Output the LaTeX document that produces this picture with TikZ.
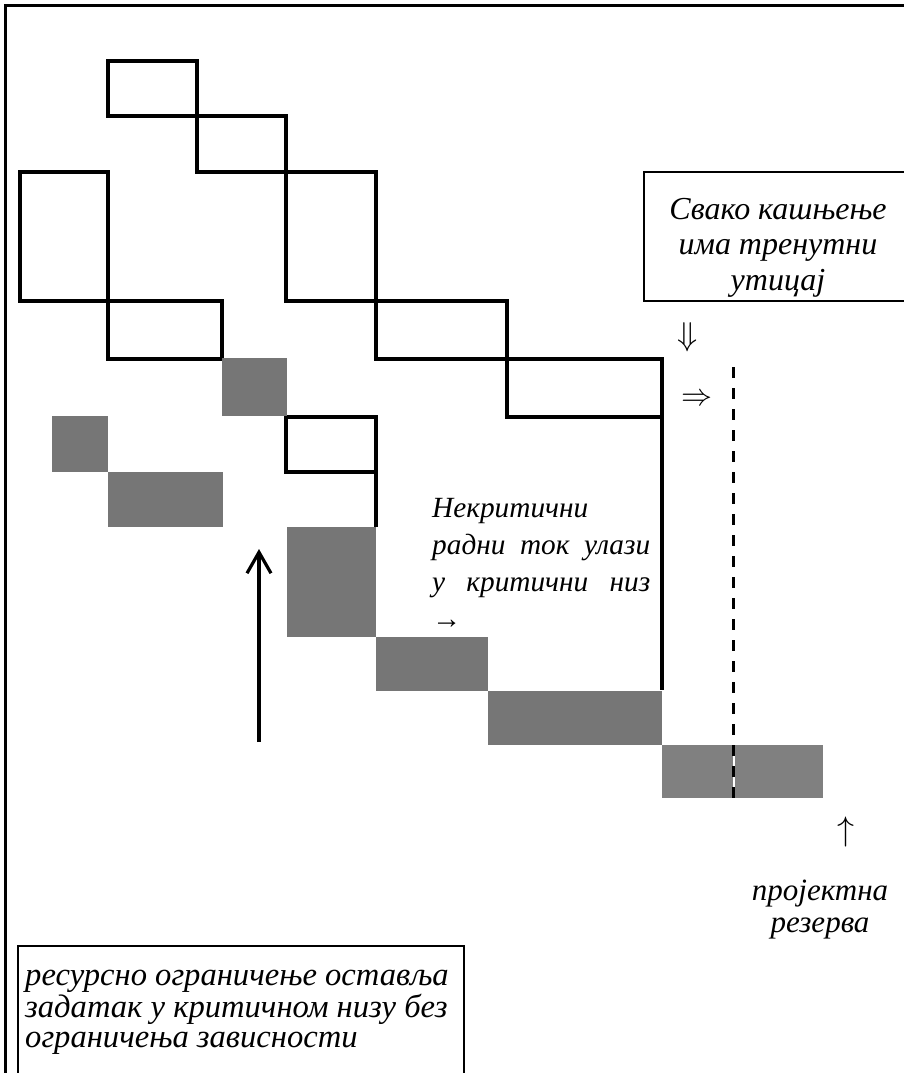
\RequirePackage{fix-cm}
\documentclass[tikz,border=0pt]{standalone}
\usepackage{fontspec}
\setmainfont{Liberation Serif}
\usetikzlibrary{arrows.meta}
\definecolor{taskgray}{RGB}{118,118,118}
\definecolor{buffergray}{RGB}{128,128,128}
\begin{document}
\begin{tikzpicture}[x=1pt,y=-1pt,
  frame/.style={line width=3.2pt},
  outline/.style={draw=black,line width=3.2pt},
  task/.style={fill=taskgray},
  buffer/.style={fill=buffergray},
  notebox/.style={draw=black,line width=2.6pt},
  label/.style={inner sep=0pt,font=\fontsize{31}{36}\selectfont\itshape},
  sym/.style={inner sep=0pt}]
\useasboundingbox (0,0) rectangle (903,1073);

% outer frame (left and top edges)
\draw[frame] (5.3,1080) -- (5.3,5.3) -- (910,5.3);

% non-critical tasks (outlined)
\draw[outline] (108,61) rectangle (197,116);
\draw[outline] (197,116) rectangle (286,172);
\draw[outline] (20,172) rectangle (108,301);
\draw[outline] (286,172) rectangle (376,301);
\draw[outline] (108,301) rectangle (222,359);
\draw[outline] (376,301) rectangle (507,359);
\draw[outline] (507,359) rectangle (662,417);
\draw[outline] (662,417) -- (662,690);
\draw[outline] (286,417) rectangle (376,472);
\draw[outline] (376,472) -- (376,527);

% critical chain tasks (filled)
\fill[task] (222,358) rectangle (287,416);
\fill[task] (52,416) rectangle (108,472);
\fill[task] (108,472) rectangle (223,527);
\fill[task] (287,527) rectangle (376,637);
\fill[task] (376,637) rectangle (488,691);
\fill[task] (488,691) rectangle (662,745);
\fill[buffer] (662,745) rectangle (823,798);

% project deadline line
\coordinate (dtop) at (733.5,367);
\coordinate (dbot) at (733.5,798);
\draw[white,line width=2pt] (733.5,745) -- (dbot);
\draw[line width=3.6pt,dash pattern=on 11pt off 10pt] (dtop) -- (dbot);

% resource constraint arrow
\coordinate (rc0) at (259,742);
\coordinate (rc1) at (259,549);
\draw[line width=3.2pt,-{Straight Barb[length=21pt,width=24pt,line width=3.2pt]}] (rc0) -- (rc1);

% note boxes
\draw[notebox] (644,172) rectangle (910,301);
\draw[notebox] (18,946) rectangle (464,1080);

\node[label,font=\fontsize{32}{35.5}\selectfont\itshape,align=center,anchor=base] (delay) at (778,290)
  {Свако кашњење\\има тренутни\\утицај};

\node[label,font=\fontsize{29.3}{37}\selectfont\itshape,align=justify,text width=218pt,anchor=base west] (feed) at (432,517)
  {Некритични\newline радни ток улази\linebreak у критични низ\linebreak {\upshape\bfseries →}};

\node[label,font=\fontsize{31}{32}\selectfont\itshape,align=center,anchor=base] (reserve) at (820,932)
  {пројектна\\резерва};

\node[label,font=\fontsize{32.6}{30}\selectfont\itshape,align=left,anchor=base west] (resource) at (25,1047)
  {ресурсно ограничење оставља\\задатак у критичном низу без\\ограничења зависности};

% arrow marks
\node[sym,font=\fontsize{33}{33}\selectfont] (down) at (688,337) {$\Downarrow$};
\node[sym,font=\fontsize{31}{31}\selectfont] (right) at (697,400) {$\Rightarrow$};
\node[sym,font=\fontsize{34}{34}\selectfont] (up) at (846,832) {$\uparrow$};
\end{tikzpicture}
\end{document}
